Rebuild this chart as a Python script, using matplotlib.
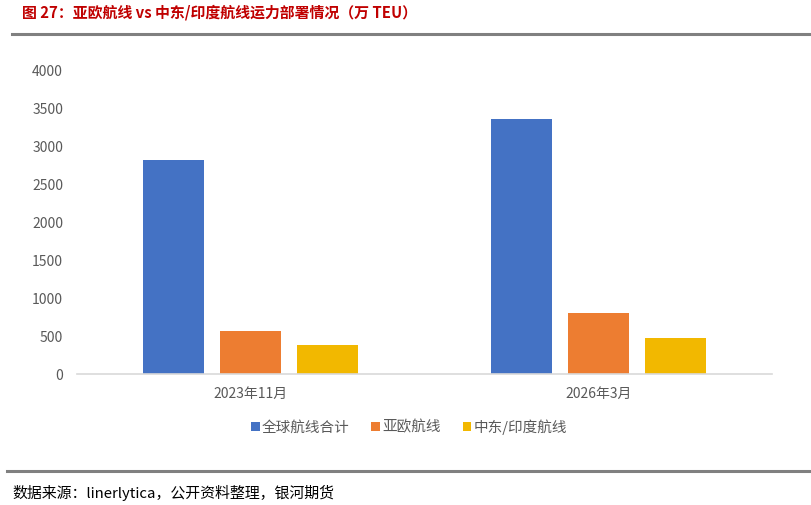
import matplotlib
matplotlib.use("Agg")
import matplotlib.pyplot as plt
import numpy as np

plt.rcParams['font.family'] = ['Noto Sans CJK SC', 'DejaVu Sans']

categories = ["2023年11月", "2026年3月"]
series_names = ["全球航线合计", "亚欧航线", "中东/印度航线"]
global_total = [2820, 3370]
asia_europe = [570, 805]
me_india = [385, 470]
yticks = [0, 500, 1000, 1500, 2000, 2500, 3000, 3500, 4000]

colors = ["#4472C4", "#ED7D31", "#F2B800"]
title = "图 27：亚欧航线 vs 中东/印度航线运力部署情况（万 TEU）"
source = "数据来源：linerlytica，公开资料整理，银河期货"

fig = plt.figure(figsize=(8.12, 5.05), dpi=100)
ax = fig.add_axes([77/812, 1-374/505, (772-77)/812, (374-71)/505])

x = np.arange(len(categories))
w = 0.1755
step = 0.2216
for i, (vals, name) in enumerate(zip([global_total, asia_europe, me_india], series_names)):
    ax.bar(x + (i-1)*step, vals, width=w, color=colors[i], label=name, zorder=2)

ax.set_xlim(-0.5, 1.5)
ax.set_ylim(0, 4000)
ax.set_yticks(yticks)
ax.set_yticklabels([str(v) for v in yticks], fontsize=10, color="#595959")
ax.set_xticks(x)
ax.set_xticklabels(categories, fontsize=10, color="#595959")
ax.tick_params(axis='both', length=0)
ax.tick_params(axis='y', pad=10)
ax.tick_params(axis='x', pad=9)
for s in ["top", "right", "left"]:
    ax.spines[s].set_visible(False)
ax.spines["bottom"].set_color("#D9D9D9")
ax.spines["bottom"].set_linewidth(1.2)

leg = fig.legend(loc="center", bbox_to_anchor=(409/812, 1-427/505), ncol=3, frameon=False,
                 fontsize=10.5, handlelength=0.6, handleheight=0.6, handletextpad=0.15,
                 columnspacing=1.5)
for t in leg.get_texts():
    t.set_color("#595959")

fig.text(22/812, 1-13/505, title, fontsize=10.75, fontweight="bold", color="#C00000",
         ha="left", va="center")
fig.add_artist(plt.Line2D([12/812, 1.0], [1-34/505, 1-34/505], color="#808080", lw=2.2))
fig.add_artist(plt.Line2D([7/812, 1.0], [1-471/505, 1-471/505], color="#808080", lw=2.2))
fig.text(12/812, 1-493/505, source, fontsize=10.75, color="#000000", ha="left", va="center")

fig.savefig("out.png", dpi=100)
